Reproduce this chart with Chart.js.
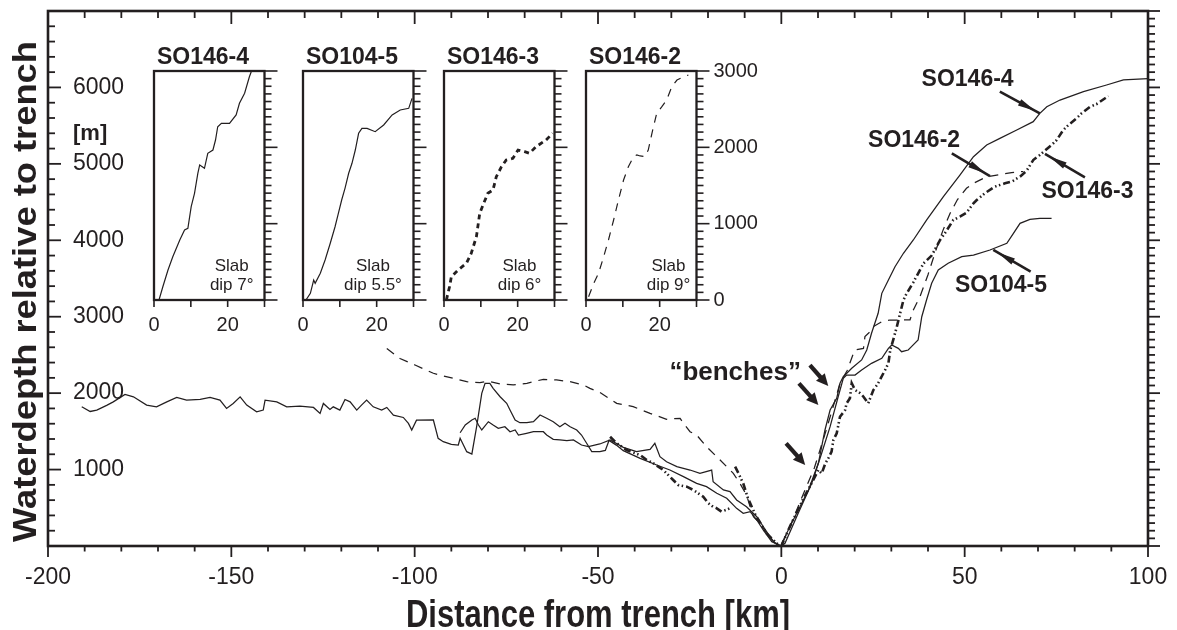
<!DOCTYPE html>
<html>
<head>
<meta charset="utf-8">
<script src="https://cdn.jsdelivr.net/npm/chart.js@4.4.1/dist/chart.umd.min.js"></script>
<style>
  html, body { margin: 0; padding: 0; background: #ffffff; }
  #wrap { position: relative; width: 1177px; height: 630px; overflow: hidden; background: #ffffff; }
  canvas { position: absolute; }
</style>
</head>
<body>
<div id="wrap"><canvas id="main" width="1177" height="630" style="left:0;top:0"></canvas></div>
<script>
// ---------------- DATA (km from trench, water depth relative to trench in m) ----------------
const SO146_4 = [
  [-87.6,1482],[-86.2,1583],[-84.4,1649],[-83.5,1671],[-82.6,1583],[-81.7,1518],[-79.9,1626],[-78.6,1583],
  [-77.2,1540],[-75.4,1561],[-74.0,1495],[-72.6,1518],[-71.7,1452],[-69.5,1474],[-67.6,1495],[-64.9,1495],
  [-64.0,1452],[-62.2,1396],[-60.4,1387],[-58.5,1378],[-56.7,1387],[-54.5,1321],[-52.6,1299],[-49.5,1335],
  [-46.7,1387],[-43.1,1291],[-39.5,1234],[-35.8,1265],[-34.5,1344],[-33.1,1168],[-31.3,1103],[-28.5,1038],
  [-24.9,994],[-22.2,951],[-19.0,994],[-18.6,841],[-15.8,733],[-14.0,711],[-12.2,602],[-9.5,514],[-6.7,383],
  [-4.9,252],[-3.1,122],[-1.7,35],[0,0],
  [0.1,35],[3.7,383],[7.4,733],[10.1,1082],[11.9,1518],[13.3,1779],[15.1,1932],[16.0,2129],[16.9,2215],
  [19.2,2325],[21.9,2434],[23.3,2564],[24.6,2783],[26.4,3045],[27.4,3306],[29.2,3480],[31.0,3654],[33.3,3830],
  [36.0,4004],[39.6,4265],[44.2,4570],[48.7,4854],[52.4,5094],[56.0,5247],[59.6,5334],[64.2,5443],[68.7,5552],
  [70.5,5661],[72.4,5748],[76.0,5835],[82.4,5944],[88.7,6032],[93.3,6100],[100,6115]
];
const SO104_5 = [
  [-190.8,1821],[-188.5,1760],[-186.7,1778],[-184.0,1840],[-182.2,1886],[-179.0,1983],[-176.7,1952],[-173.1,1843],
  [-170.4,1821],[-167.6,1886],[-164.9,1943],[-162.2,1908],[-158.5,1917],[-155.8,1943],[-153.1,1908],[-151.3,1800],
  [-149.5,1865],[-147.6,1952],[-145.8,1843],[-143.1,1756],[-141.3,1778],[-140.8,1908],[-137.6,1886],[-134.9,1821],
  [-131.3,1830],[-127.6,1813],[-125.8,1734],[-124.9,1865],[-123.1,1786],[-122.2,1821],[-120.4,1778],[-119.0,1917],
  [-117.6,1886],[-115.8,1778],[-114.5,1843],[-113.1,1908],[-111.3,1821],[-109.0,1778],[-107.6,1813],[-105.8,1712],
  [-103.1,1682],[-101.7,1604],[-100.8,1516],[-99.5,1647],[-94.9,1649],[-93.6,1409],[-92.2,1365],[-90.0,1330],
  [-88.1,1321],[-87.6,1409],[-85.8,1234],[-84.4,1204],[-83.1,1561],[-81.7,1998],[-80.8,2129],[-79.5,2129],
  [-78.6,2063],[-76.7,1953],[-74.9,1867],[-74.0,1779],[-72.6,1649],[-71.3,1613],[-69.4,1613],[-67.6,1626],
  [-65.8,1714],[-64.0,1671],[-62.2,1626],[-60.4,1561],[-59.0,1605],[-57.6,1561],[-55.8,1518],[-54.5,1452],
  [-53.1,1344],[-51.7,1234],[-49.5,1234],[-48.0,1250],[-47.0,1380],[-45.0,1320],[-43.1,1247],[-38.5,1147],
  [-34.0,1060],[-30.4,994],[-26.7,907],[-23.1,820],[-20.4,776],[-17.6,690],[-14.9,624],[-12.2,493],[-10.4,428],
  [-8.5,449],[-6.7,340],[-4.9,209],[-2.6,56],[0,0],
  [1.0,35],[4.6,428],[8.3,820],[11.0,1213],[13.3,1561],[15.5,1953],[16.9,2194],[17.8,2237],[20.1,2237],
  [21.9,2303],[24.6,2390],[27.4,2456],[29.2,2586],[30.1,2630],[31.9,2586],[32.8,2542],[34.6,2564],[35.5,2608],
  [37.3,2695],[38.3,3000],[39.6,3219],[41.0,3437],[42.8,3611],[45.5,3699],[49.2,3785],[52.4,3807],[56.9,3873],
  [61.5,3960],[63.3,4091],[65.1,4222],[67.8,4274],[70.5,4287],[73.7,4287]
];
const SO146_2 = [
  [-107.6,2584],[-104.0,2453],[-99.9,2368],[-94.9,2260],[-92.2,2224],[-89.5,2194],[-85.8,2150],[-82.2,2137],
  [-80.0,2155],[-76.7,2120],[-73.1,2107],[-69.4,2129],[-64.9,2181],[-61.3,2172],[-57.6,2150],[-54.0,2107],
  [-52.2,2063],[-49.5,2010],[-44.9,1867],[-40.4,1823],[-35.8,1736],[-31.3,1658],[-27.6,1671],[-26.7,1605],
  [-24.9,1495],[-23.1,1452],[-20.4,1299],[-16.7,1125],[-13.1,951],[-11.3,820],[-9.5,667],[-8.5,514],[-7.6,383],
  [-5.8,297],[-4.0,166],[-2.2,56],[0,0],
  [3.0,330],[6.0,680],[9.0,1020],[12.0,1480],[14.0,1800],[16.0,2130],[18.0,2300],[19.5,2500],[20.1,2564],
  [22.4,2586],[22.8,2739],[24.2,2804],[25.1,2870],[27.4,2935],[29.6,2957],[32.4,2957],[35.1,2960],[36.0,3088],
  [37.8,3262],[40.0,3550],[42.0,3850],[44.0,4120],[46.0,4350],[48.0,4530],[50.5,4680],[52.4,4745],[56.0,4832],
  [59.6,4860],[62.8,4884],[66.0,4900]
];
const SO146_3 = [
  [-46.7,1430],[-44.9,1344],[-42.2,1256],[-38.5,1190],[-36.7,1125],[-34.9,1082],[-32.2,994],[-29.5,864],
  [-28.1,798],[-25.8,776],[-24.0,733],[-21.3,645],[-19.9,558],[-18.6,514],[-17.6,493],[-16.3,449],[-14.0,493],
  [-13.3,null],
  [-12.6,1038],[-11.7,951],[-10.4,820],[-9.1,624],[-7.0,400],[-4.0,166],[-1.3,35],[0,0],
  [2.0,220],[4.0,420],[6.0,620],[8.0,800],[10.1,994],[11.0,950],[12.0,1080],[12.8,1147],[13.7,1234],[14.2,1387],
  [15.1,1474],[16.0,1692],[17.4,1779],[17.8,1867],[18.7,1932],[19.2,2129],[20.1,2041],[21.5,2000],[22.4,1953],
  [23.7,1867],[25.1,2041],[26.4,2129],[28.3,2303],[29.2,2390],[29.7,2564],[30.5,2695],[31.5,2869],[32.4,3045],
  [33.3,3219],[34.2,3306],[36.0,3450],[37.8,3611],[38.8,3699],[41.0,3800],[43.3,4004],[44.6,4091],[46.9,4265],
  [48.7,4309],[50.5,4360],[52.4,4484],[53.3,4527],[55.5,4615],[58.2,4701],[61.0,4745],[62.8,4767],[65.1,4832],
  [66.9,4910],[68.7,5050],[70.5,5116],[73.7,5247],[75.1,5312],[76.9,5443],[78.3,5508],[80.5,5596],[81.9,5661],
  [84.2,5748],[86.0,5783],[88.3,5858],[89.2,5888]
];

// inset profiles (km, m)
const INSET_SO146_4 = [[1.36,0],[2.4,174],[3.8,393],[5.1,567],[7.0,786],[8.3,917],[9.2,939],[10.1,1222],[11.0,1398],
  [11.9,1660],[12.4,1769],[13.7,1725],[14.6,1922],[16.0,1965],[16.7,2096],[17.3,2270],[18.3,2315],[20.5,2315],
  [22.3,2424],[23.2,2577],[24.6,2708],[25.9,2925],[26.4,2991]];
const INSET_SO104_5 = [[0.8,0],[2.0,87],[2.9,262],[3.3,218],[4.7,350],[6.0,524],[7.4,743],[8.7,960],[9.6,1136],
  [10.5,1310],[11.4,1463],[12.4,1660],[13.3,1791],[14.2,1965],[15.1,2184],[16.0,2249],[17.4,2249],[19.6,2205],
  [21.9,2293],[24.2,2424],[26.4,2489],[28.7,2511],[29.6,2642]];
const INSET_SO146_3 = [[0.65,0],[1.5,174],[2.0,305],[3.8,393],[6.1,481],[7.4,612],[8.8,829],[9.7,1136],[10.6,1245],
  [11.9,1398],[13.3,1441],[14.2,1615],[15.6,1746],[16.9,1834],[18.7,1856],[20.1,1965],[21.9,1943],[23.2,1922],
  [25.0,2008],[27.7,2096],[29.5,2184]];
const INSET_SO146_2 = [[0.7,43],[2.1,218],[3.4,350],[4.8,568],[6.1,786],[7.5,1048],[8.8,1310],[10.2,1572],[11.5,1746],
  [12.9,1878],[13.8,1900],[14.7,1887],[16.0,1878],[16.9,1965],[17.9,2184],[19.2,2446],[20.6,2533],[21.9,2620],
  [23.3,2795],[24.7,2882],[26.5,2925],[27.8,2948]];

const INSET_TITLES = ['SO146-4', 'SO104-5', 'SO146-3', 'SO146-2'];
const INSET_DIPS = ['dip 7°', 'dip 5.5°', 'dip 6°', 'dip 9°'];
const INSET_X_LABELS = [0, 20];

// annotation anchors (km, m)
const SERIES_LABELS = ['SO146-4', 'SO146-2', 'SO146-3', 'SO104-5'];
const LABEL_AT = [[50.8,6129],[36.2,5331],[83.5,4658],[59.9,3437]];
const ARROW_FROM = [[59.6,5944],[46.5,5138],[82.8,4824],[68.0,3589]];
const ARROW_TO = [[70.5,5661],[56.9,4841],[71.9,5129],[57.8,3873]];
const BENCH_FROM = [[7.8,2368],[4.8,2129],[1.3,1344]];
const BENCH_TO = [[12.8,2093],[10.1,1845],[6.5,1060]];
const BENCH_LABEL_AT = [-12.6, 2290];

// ---------------- STYLE ----------------
const INK = '#231f20';
const FONT = '"Liberation Sans", Arial, Helvetica, sans-serif';
Chart.defaults.font.family = FONT;
Chart.defaults.color = INK;

const toPts = arr => arr.map(([x, y]) => ({ x, y }));

function seg(ctx, x1, y1, x2, y2) { ctx.beginPath(); ctx.moveTo(x1, y1); ctx.lineTo(x2, y2); ctx.stroke(); }

function arrow(ctx, x1, y1, x2, y2, shaftW, headLen, headW, tipBack, shaftFull) {
  const a = Math.atan2(y2 - y1, x2 - x1), c = Math.cos(a), s = Math.sin(a);
  const tx = x2 - c * tipBack, ty = y2 - s * tipBack;
  const bx = tx - c * headLen, by = ty - s * headLen;
  ctx.lineWidth = shaftW; ctx.lineCap = 'butt';
  if (shaftFull) seg(ctx, x1, y1, x2, y2); else seg(ctx, x1, y1, bx + c * 2, by + s * 2);
  ctx.beginPath();
  ctx.moveTo(tx, ty);
  ctx.lineTo(bx - s * headW, by + c * headW);
  ctx.lineTo(bx + s * headW, by - c * headW);
  ctx.closePath(); ctx.fill();
}

function noPad(s) { s.paddingTop = 0; s.paddingBottom = 0; s.paddingLeft = 0; s.paddingRight = 0; }

const mainDecor = {
  id: 'mainDecor',
  afterDraw(chart) {
    const { ctx, chartArea: { left, right, top, bottom }, scales: { x, y } } = chart;
    ctx.save();
    ctx.strokeStyle = INK; ctx.fillStyle = INK;
    // frame
    ctx.lineWidth = 2.6;
    ctx.strokeRect(left, top, right - left, bottom - top);
    // ticks
    ctx.lineWidth = 1.8;
    for (let v = x.min; v <= x.max; v += 10) {
      const px = x.getPixelForValue(v), major = v % 50 === 0;
      seg(ctx, px, bottom, px, bottom + (major ? 11 : 5.5));
      seg(ctx, px, top, px, top + (major ? 13 : 7));
    }
    for (let v = y.min; v <= y.max; v += 100) {
      const py = y.getPixelForValue(v), major = v % 1000 === 0;
      if (v % 200 === 0) seg(ctx, left, py, left + (major ? 13 : 7), py);
      seg(ctx, right, py, right + (major ? 12 : 7), py);
    }
    // [m]
    ctx.font = 'bold 22px ' + FONT; ctx.textAlign = 'left'; ctx.textBaseline = 'middle';
    ctx.fillText('[m]', left + 25, y.getPixelForValue(5390));
    // axis titles (slightly stretched, as in the original)
    ctx.save();
    ctx.translate((left + right) / 2, 626.5); ctx.scale(1, 1.25);
    ctx.font = 'bold 31px ' + FONT; ctx.textAlign = 'center'; ctx.textBaseline = 'alphabetic';
    ctx.fillText('Distance from trench [km]', 0, 0);
    ctx.restore();
    ctx.save();
    ctx.translate(35.5, 291.5); ctx.rotate(-Math.PI / 2); ctx.scale(1.1, 1);
    ctx.font = 'bold 33px ' + FONT; ctx.textAlign = 'center'; ctx.textBaseline = 'alphabetic';
    ctx.fillText('Waterdepth relative to trench', 0, 0);
    ctx.restore();
    // series labels + arrows
    ctx.font = 'bold 23px ' + FONT; ctx.textAlign = 'center'; ctx.textBaseline = 'alphabetic';
    SERIES_LABELS.forEach((t, i) => {
      ctx.fillText(t, x.getPixelForValue(LABEL_AT[i][0]), y.getPixelForValue(LABEL_AT[i][1]) + 8.3);
      arrow(ctx, x.getPixelForValue(ARROW_FROM[i][0]), y.getPixelForValue(ARROW_FROM[i][1]),
                 x.getPixelForValue(ARROW_TO[i][0]), y.getPixelForValue(ARROW_TO[i][1]), 2.6, 18, 3.5, 5, true);
    });
    // benches
    ctx.font = 'bold 26px ' + FONT;
    ctx.fillText('\u201Cbenches\u201D', x.getPixelForValue(BENCH_LABEL_AT[0]), y.getPixelForValue(BENCH_LABEL_AT[1]) + 9.3);
    BENCH_FROM.forEach((p, i) => {
      arrow(ctx, x.getPixelForValue(p[0]), y.getPixelForValue(p[1]),
                 x.getPixelForValue(BENCH_TO[i][0]), y.getPixelForValue(BENCH_TO[i][1]), 4.2, 12, 5.8, 0, false);
    });
    ctx.restore();
  }
};

new Chart(document.getElementById('main'), {
  type: 'scatter',
  data: {
    datasets: [
      { label: 'SO146-4', data: toPts(SO146_4), showLine: true, borderColor: INK, borderWidth: 1.25, pointRadius: 0, spanGaps: false },
      { label: 'SO104-5', data: toPts(SO104_5), showLine: true, borderColor: INK, borderWidth: 1.25, pointRadius: 0, spanGaps: false },
      { label: 'SO146-2', data: toPts(SO146_2), showLine: true, borderColor: INK, borderWidth: 1.25, borderDash: [9, 7], pointRadius: 0, spanGaps: false },
      { label: 'SO146-3', data: toPts(SO146_3), showLine: true, borderColor: INK, borderWidth: 2.6, borderDash: [7, 3, 1.5, 2.5, 1.5, 3], pointRadius: 0, spanGaps: false }
    ]
  },
  options: {
    responsive: false, animation: false, events: [],
    layout: { padding: { top: 11, right: 29, left: 0, bottom: 0 } },
    plugins: { legend: { display: false }, tooltip: { enabled: false } },
    scales: {
      x: {
        type: 'linear', min: -200, max: 100,
        grid: { display: false, drawTicks: false }, border: { display: false },
        ticks: { stepSize: 50, padding: 18, font: { size: 23 }, color: INK, maxRotation: 0, autoSkip: false, callback: v => String(v) },
        afterFit(s) { s.height = 84; noPad(s); }
      },
      y: {
        type: 'linear', min: 0, max: 7000,
        grid: { display: false, drawTicks: false }, border: { display: false },
        ticks: { stepSize: 1000, mirror: true, padding: 25, font: { size: 23 }, color: INK, callback: v => (v > 0 && v < 7000) ? String(v) : '' },
        afterFit(s) { s.width = 48; noPad(s); }
      }
    }
  },
  plugins: [mainDecor]
});

// ---------------- INSETS ----------------
const INSET_DATA = [INSET_SO146_4, INSET_SO104_5, INSET_SO146_3, INSET_SO146_2];
const INSET_LINE = [
  { borderWidth: 1.2, borderDash: [] },
  { borderWidth: 1.2, borderDash: [] },
  { borderWidth: 2.8, borderDash: [5, 4] },
  { borderWidth: 1.2, borderDash: [8, 7] }
];
const INSET_LEFT = [154.3, 302.7, 444.3, 585.7];
const INSET_SLAB_X = [21.1, 19.0, 20.5, 22.4];
const INSET_W = 110.5, INSET_TOP_PX = 40;

function insetDecor(i) {
  return {
    id: 'insetDecor' + i,
    afterDraw(chart) {
      const { ctx, chartArea: { left, right, top, bottom }, scales: { x, y } } = chart;
      ctx.save();
      ctx.strokeStyle = INK; ctx.fillStyle = INK;
      ctx.lineWidth = 2.3;
      ctx.strokeRect(left, top, right - left, bottom - top);
      ctx.lineWidth = 1.6;
      for (let v = y.min; v <= y.max; v += 100) {
        const py = y.getPixelForValue(v);
        seg(ctx, right, py, right + (v % 1000 === 0 ? 13 : 7), py);
      }
      for (let v = x.min; v <= x.max; v += 10) {
        const px = x.getPixelForValue(v);
        seg(ctx, px, bottom, px, bottom + 7);
      }
      ctx.font = 'bold 23px ' + FONT; ctx.textAlign = 'left'; ctx.textBaseline = 'alphabetic';
      ctx.fillText(INSET_TITLES[i], left + 3, top - 7.2);
      ctx.font = '17px ' + FONT; ctx.textAlign = 'center';
      const cx = x.getPixelForValue(INSET_SLAB_X[i]);
      ctx.fillText('Slab', cx, y.getPixelForValue(465) + 6.2);
      ctx.fillText(INSET_DIPS[i], cx, y.getPixelForValue(216) + 6.2);
      ctx.restore();
    }
  };
}

INSET_DATA.forEach((pts, i) => {
  const padL = 12, rightW = i === 3 ? 72 : 22;
  const W = Math.round(padL + INSET_W + rightW), H = 310;
  const cv = document.createElement('canvas');
  cv.width = W; cv.height = H;
  cv.style.left = (INSET_LEFT[i] - padL) + 'px';
  cv.style.top = INSET_TOP_PX + 'px';
  document.getElementById('wrap').appendChild(cv);
  new Chart(cv, {
    type: 'scatter',
    data: { datasets: [{ data: toPts(pts), showLine: true, borderColor: INK, borderWidth: INSET_LINE[i].borderWidth, borderDash: INSET_LINE[i].borderDash, pointRadius: 0 }] },
    options: {
      responsive: false, animation: false, events: [],
      layout: { padding: { left: padL, top: 31, right: W - padL - INSET_W - rightW, bottom: 0 } },
      plugins: { legend: { display: false }, tooltip: { enabled: false } },
      scales: {
        x: {
          type: 'linear', min: 0, max: 30, position: 'bottom',
          grid: { display: false, drawTicks: false }, border: { display: false },
          ticks: { stepSize: 10, autoSkip: false, maxRotation: 0, padding: 13.5, font: { size: 20 }, color: INK,
                   callback: v => INSET_X_LABELS.includes(v) ? String(v) : '' },
          afterFit(s) { s.height = 50; noPad(s); }
        },
        y: {
          type: 'linear', min: 0, max: 3000, position: 'right',
          grid: { display: false, drawTicks: false }, border: { display: false },
          ticks: { display: i === 3, stepSize: 1000, padding: 17, font: { size: 20 }, color: INK, callback: v => String(v) },
          afterFit(s) { s.width = rightW; noPad(s); }
        }
      }
    },
    plugins: [insetDecor(i)]
  });
});
</script>
</body>
</html>
